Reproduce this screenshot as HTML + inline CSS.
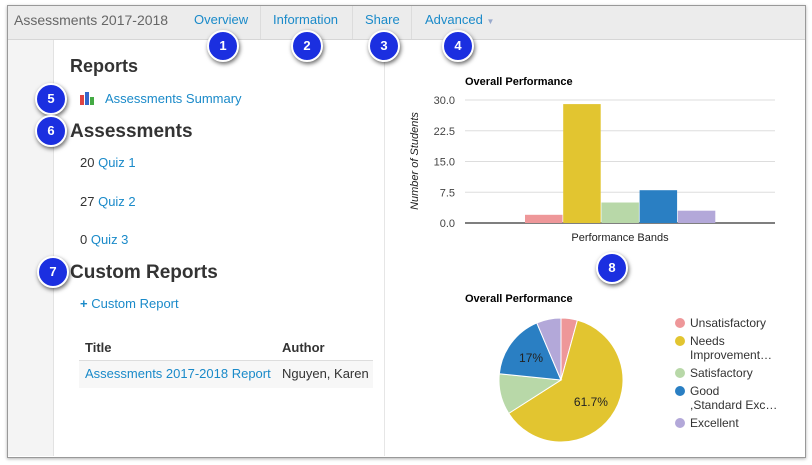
<!DOCTYPE html>
<html><head><meta charset="utf-8"><style>
body{margin:0;width:812px;height:465px;background:#fff;font-family:"Liberation Sans",sans-serif;position:relative;overflow:hidden}
.a{position:absolute}
.badge{position:absolute;width:28px;height:28px;border-radius:50%;background:#1b2fe0;border:2px solid #fff;box-shadow:1px 2px 4px rgba(0,0,0,.6);color:#fff;font-weight:bold;font-size:13px;text-align:center;line-height:28px}
h2{margin:0;font-size:19px;font-weight:bold;color:#333;position:absolute}
.t{font-size:13px;position:absolute;color:#333}
.lnk,.t.lnk{color:#1a8ac9}
</style></head><body>
<div class="a" style="left:7px;top:5px;width:797px;height:451px;border:1px solid #999;box-shadow:0 1px 3px rgba(0,0,0,.3)"></div>
<div class="a" style="left:8px;top:6px;width:797px;height:33px;background:#ececec;border-bottom:1px solid #d6d6d6"></div>
<div class="a" style="left:8px;top:40px;width:45px;height:416px;background:#f4f4f4;border-right:1px solid #e2e2e2"></div>
<div class="a" style="left:384px;top:40px;width:1px;height:416px;background:#e6e6e6"></div>
<div class="t" style="left:14px;top:12px;font-size:14px;color:#666">Assessments 2017-2018</div>
<div class="t lnk" style="left:194px;top:12px">Overview</div>
<div class="a" style="left:260px;top:6px;width:1px;height:33px;background:#dcdcdc"></div>
<div class="t lnk" style="left:273px;top:12px">Information</div>
<div class="a" style="left:352px;top:6px;width:1px;height:33px;background:#dcdcdc"></div>
<div class="t lnk" style="left:365px;top:12px">Share</div>
<div class="a" style="left:411px;top:6px;width:1px;height:33px;background:#dcdcdc"></div>
<div class="t lnk" style="left:425px;top:12px">Advanced <span style="font-size:8px;color:#9ac">▼</span></div>
<div class="badge" style="left:207px;top:30px">1</div>
<div class="badge" style="left:291px;top:30px">2</div>
<div class="badge" style="left:368px;top:30px">3</div>
<div class="badge" style="left:442px;top:30px">4</div>
<h2 style="left:70px;top:56px;font-size:18px">Reports</h2>
<svg class="a" style="left:79px;top:91px" width="17" height="14"><rect x="1" y="4" width="4" height="10" fill="#d44"/><rect x="6" y="1" width="4" height="13" fill="#36c"/><rect x="11" y="6" width="4" height="8" fill="#4a4"/></svg>
<div class="t lnk" style="left:105px;top:91px">Assessments Summary</div>
<div class="badge" style="left:35px;top:83px">5</div>
<h2 style="left:70px;top:121px">Assessments</h2>
<div class="badge" style="left:35px;top:115px">6</div>
<div class="t" style="left:80px;top:155px">20 <span class="lnk">Quiz 1</span></div>
<div class="t" style="left:80px;top:194px">27 <span class="lnk">Quiz 2</span></div>
<div class="t" style="left:80px;top:232px">0 <span class="lnk">Quiz 3</span></div>
<h2 style="left:70px;top:262px">Custom Reports</h2>
<div class="badge" style="left:37px;top:256px">7</div>
<div class="t lnk" style="left:80px;top:296px"><b>+</b> Custom Report</div>
<div class="t" style="left:85px;top:340px;font-weight:bold">Title</div>
<div class="t" style="left:282px;top:340px;font-weight:bold">Author</div>
<div class="a" style="left:79px;top:360px;width:294px;height:27px;background:#f7f7f7;border-top:1px solid #ddd"></div>
<div class="t lnk" style="left:85px;top:366px">Assessments 2017-2018 Report</div>
<div class="t" style="left:282px;top:366px">Nguyen, Karen</div>
<div class="badge" style="left:596px;top:252px">8</div>
<svg class="a" id="bar" style="left:0;top:0" width="812" height="465"></svg>
<script>
const categories=["Unsatisfactory","Needs Improvement","Satisfactory","Good ,Standard Exc","Excellent"];
const values=[2,29,5,8,3];
const colors=["#ee9799","#e2c530","#b8d8a8","#2a7fc3","#b3a8d9"];
const yTicks=[0,7.5,15,22.5,30];
const yTickLabels=["0.0","7.5","15.0","22.5","30.0"];
const legendLabels=[["Unsatisfactory"],["Needs","Improvement…"],["Satisfactory"],["Good",",Standard Exc…"],["Excellent"]];
const NS="http://www.w3.org/2000/svg";
const svg=document.getElementById('bar');
function mk(t,a,p){const e=document.createElementNS(NS,t);for(const k in a)e.setAttribute(k,a[k]);(p||svg).appendChild(e);return e;}
const x0=465,x1=775,yTop=100,yBot=223;
const yS=v=>yBot-(v/30)*(yBot-yTop);
let t=mk('text',{x:465,y:85,'font-size':11,'font-weight':'bold',fill:'#000'});t.textContent="Overall Performance";


yTicks.forEach((v,i)=>{
 const l=mk('line',{x1:x0,x2:x1,y1:yS(v),y2:yS(v),stroke:i==0?'#333':'#ddd','stroke-width':i==0?1.2:1});
 
 
 const tx=mk('text',{x:455,y:yS(v)+4,'font-size':11,fill:'#444','text-anchor':'end'});tx.textContent=yTickLabels[i];
 
 
});
const bw=37.5,bs=525;
values.forEach((v,i)=>{
 const r=mk('rect',{x:bs+i*(bw+0.7),y:yS(v),width:bw,height:yBot-yS(v),fill:colors[i]});
 
 
});
t=mk('text',{x:620,y:241,'font-size':11,fill:'#222','text-anchor':'middle'});t.textContent="Performance Bands";


t=mk('text',{x:0,y:0,'font-size':11,'font-style':'italic',fill:'#222','text-anchor':'middle',transform:'translate(418,161) rotate(-90)'});t.textContent="Number of Students";


// pie
t=mk('text',{x:465,y:302,'font-size':11,'font-weight':'bold',fill:'#000'});t.textContent="Overall Performance";


const cx=561,cy=380,R=62,total=values.reduce((a,b)=>a+b,0);
let ang=0;
values.forEach((v,i)=>{
 const a0=ang,a1=ang+v/total*2*Math.PI;ang=a1;
 const p=(a)=>[cx+R*Math.sin(a),cy-R*Math.cos(a)];
 const [sx,sy]=p(a0),[ex,ey]=p(a1);
 const s=mk('path',{d:`M${cx},${cy}L${sx},${sy}A${R},${R} 0 ${a1-a0>Math.PI?1:0} 1 ${ex},${ey}Z`,fill:colors[i],stroke:'#fff','stroke-width':1});
 
 
 const pct=v/total*100;
 if(pct>15){const m=(a0+a1)/2;const lt=mk('text',{x:cx+R*0.6*Math.sin(m),y:cy-R*0.6*Math.cos(m)+4,'font-size':12,fill:'#222','text-anchor':'middle'});
  lt.textContent=(Math.round(pct*10)/10)+'%';
  
  }
});
const ly=[327,345,377,395,427];
legendLabels.forEach((lines,i)=>{
 const c=mk('circle',{cx:680,cy:ly[i]-4,r:5,fill:colors[i]});
 
 
 lines.forEach((s,j)=>{const lt=mk('text',{x:690,y:ly[i]+j*14,'font-size':12,fill:'#333'});lt.textContent=s;
  
  });
});
</script>
</body></html>
